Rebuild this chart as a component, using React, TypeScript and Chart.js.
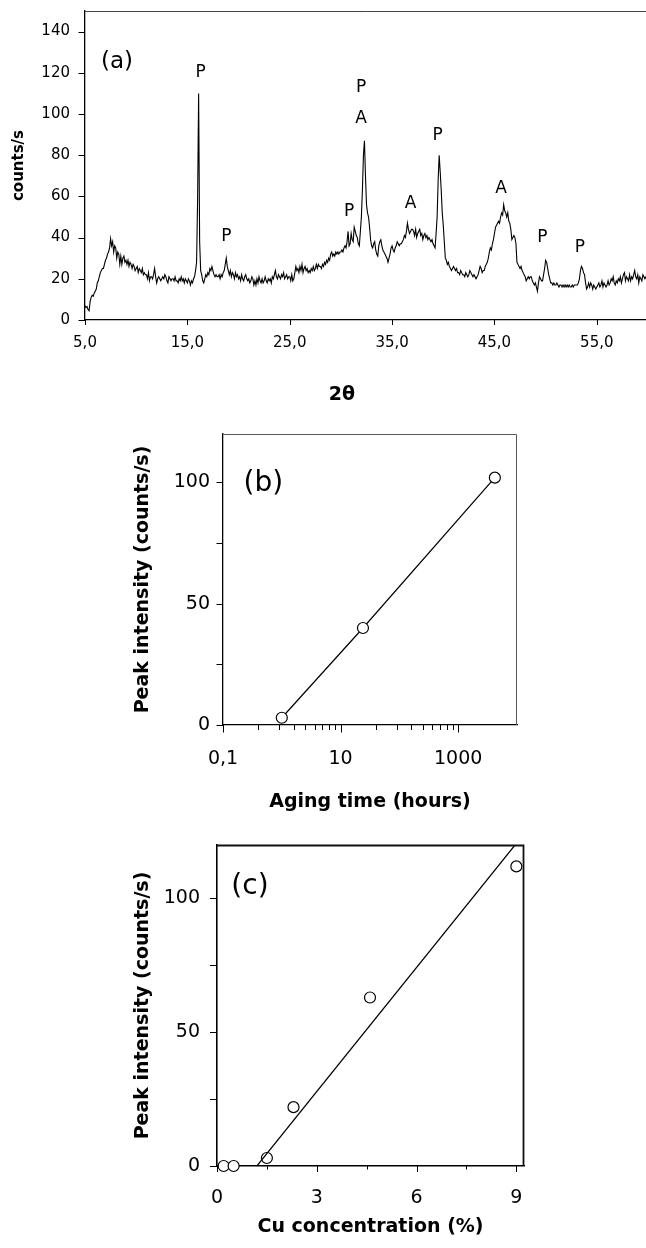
import React, { useEffect, useRef } from 'react';
import { Chart, registerables } from 'chart.js';

Chart.register(...registerables);

const FONT = "'DejaVu Sans', sans-serif";

// ---------- (a) XRD pattern ----------
const A_START = 5.0; // 2θ of first sample
const A_STEP = 0.1; // 2θ sampling step
const A_COUNTS = [
  7, 6, 6.5, 5, 4.5, 9, 11, 12, 11.5, 13,
  14, 15, 18, 19, 21, 23, 24, 25, 25, 27,
  29, 30, 32, 33, 35, 39.5, 36, 38, 33, 36,
  35, 30, 33, 32, 27, 31, 27, 30, 31, 28,
  29, 27, 29, 26, 28, 27, 25, 27, 26, 24,
  25, 26, 23, 25, 24, 23, 25, 22, 23, 22,
  22, 20, 23, 19, 21, 21, 20, 22, 25, 21,
  18, 20, 21, 20, 19, 20, 21, 20, 22, 21,
  19, 18, 21, 20, 19, 20, 20, 19, 21, 19,
  19, 18, 20, 19, 21, 19, 20, 18, 20, 19,
  18, 20, 19, 17, 19, 18, 20, 21, 24, 28,
  58, 110, 38, 24, 22, 19, 18, 20, 22, 21,
  23, 22, 25, 24, 26, 24, 22, 21, 22, 21,
  21, 22, 20, 22, 21, 23, 24, 27, 30, 26,
  24, 22, 24, 21, 23, 22, 20, 23, 21, 22,
  20, 21, 19, 22, 20, 19, 21, 22, 20, 19,
  20, 18, 19, 21, 20, 17, 19, 17, 20, 18,
  21, 19, 18, 20, 18, 19, 21, 19, 18, 20,
  19, 20, 18, 21, 20, 22, 24, 21, 20, 22,
  21, 20, 22, 21, 23, 20, 21, 22, 20, 21,
  21, 19, 22, 19, 20, 23, 26, 24, 25, 23,
  26, 24, 27, 23, 25, 26, 24, 25, 23, 24,
  23, 25, 24, 26, 24, 25, 27, 25, 27, 26,
  26, 25, 27, 26, 28, 27, 29, 28, 30, 29,
  32, 33, 31, 32, 31, 33, 32, 33, 32, 33,
  33, 34, 33, 35, 36, 35, 38, 43, 36, 37,
  42, 39, 38, 45, 43, 41, 40, 37, 36, 43,
  50, 63, 80, 87, 70, 56, 52, 50, 45, 39,
  36, 35, 37, 38, 34, 32, 31, 36, 38, 39,
  36, 34, 33, 32, 31, 30, 28, 30, 32, 35,
  36, 34, 33, 35, 36, 38, 37, 36, 37, 37,
  38, 39, 41, 40, 43, 47, 44, 42, 43, 44,
  44, 43, 41, 44, 40, 42, 43, 44, 41, 42,
  39, 41, 42, 40, 41, 39, 40, 39, 38, 39,
  37, 36, 35, 42, 50, 68, 80, 72, 63, 52,
  46, 38, 30, 29, 27, 28, 26, 25, 24, 25,
  26, 25, 24, 25, 23, 23, 22, 24, 23, 22,
  22, 21, 23, 22, 21, 22, 24, 23, 22, 21,
  22, 21, 20, 21, 22, 24, 26, 25, 23, 24,
  24, 26, 27, 28, 30, 33, 35, 34, 37, 39,
  42, 45, 46, 47, 48, 47, 50, 52, 51, 56,
  53, 52, 50, 52, 48, 47, 44, 39, 40, 41,
  40, 37, 28, 27, 26, 25, 26, 24, 23, 22,
  21, 19, 20, 21, 20, 21, 21, 19, 18, 17,
  18, 16, 14, 18, 21, 20, 19, 19, 22, 25,
  29, 28, 25, 22, 20, 18, 18, 17, 18, 17,
  17, 18, 17, 16, 17, 17, 16, 17, 16, 17,
  16, 17, 16, 17, 16, 16, 17, 16, 17, 17,
  17, 17, 18, 20, 24, 26, 25, 23, 22, 18,
  15, 16, 18, 16, 18, 17, 15, 17, 16, 15,
  16, 17, 18, 16, 17, 19, 16, 18, 17, 16,
  17, 19, 17, 18, 20, 19, 21, 18, 17, 19,
  18, 20, 19, 21, 18, 20, 22, 23, 19, 21,
  20, 19, 22, 19, 21, 20, 22, 24, 21, 20,
  22, 18, 21, 20, 19, 22, 21, 20, 21, 22,
  21,
];
const A_X_TICKS = [5, 15, 25, 35, 45, 55];
const A_X_LABELS = ['5,0', '15,0', '25,0', '35,0', '45,0', '55,0'];
const A_Y_TICKS = [0, 20, 40, 60, 80, 100, 120, 140];
const A_Y_LABELS = ['0', '20', '40', '60', '80', '100', '120', '140'];
const A_PEAK_TEXT = ['P', 'P', 'P', 'A', 'P', 'A', 'P', 'A', 'P', 'P'];
const A_PEAK_X = [16.3, 18.8, 31.97, 31.97, 30.8, 36.8, 39.45, 45.65, 49.68, 53.34];
const A_PEAK_Y = [120.2, 40.3, 112.8, 98, 52.5, 56.4, 89.5, 64, 40.2, 35.3];

// ---------- (b) peak intensity vs aging time ----------
const B_HOURS = [1, 24, 4200];
const B_PEAK = [3, 40, 102];
const B_X_MAJOR = [0.1, 10, 1000];
const B_X_LABELS = ['0,1', '10', '1000'];
const B_X_MINOR = [0.4, 0.9, 1.6, 2.5, 3.6, 4.9, 6.4, 8.1, 40, 90, 160, 250, 360, 490, 640, 810];
const B_Y_MAJOR = [0, 50, 100];
const B_Y_LABELS = ['0', '50', '100'];
const B_Y_MINOR = [25, 75];

// ---------- (c) peak intensity vs Cu concentration ----------
const C_CU = [0.2, 0.5, 1.5, 2.3, 4.6, 9.0];
const C_PEAK = [0, 0, 3, 22, 63, 112];
const C_FIT_X = [1.2, 8.96];
const C_FIT_Y = [0, 120];
const C_X_MAJOR = [0, 3, 6, 9];
const C_X_LABELS = ['0', '3', '6', '9'];
const C_X_MINOR = [1.5, 4.5, 7.5];
const C_Y_MAJOR = [0, 50, 100];
const C_Y_LABELS = ['0', '50', '100'];
const C_Y_MINOR = [25, 75];

const tickList = (major: number[], minor: number[]) =>
  [...major.map((v) => ({ value: v, major: true })), ...minor.map((v) => ({ value: v, major: false }))].sort(
    (a, b) => a.value - b.value
  );

const zeroPad = (s: any) => {
  s.paddingLeft = 0;
  s.paddingRight = 0;
  s.paddingTop = 0;
  s.paddingBottom = 0;
};

function makeAxis(cfg: {
  type: 'linear' | 'logarithmic';
  min: number;
  max: number;
  major: number[];
  minor: number[];
  labels: string[];
  size: number;
  horizontal: boolean;
  pad: number;
  fontSize: number;
  borderWidth: number;
  title?: string;
  titleSize?: number;
  titlePad?: number;
}) {
  return {
    type: cfg.type,
    min: cfg.min,
    max: cfg.max,
    afterBuildTicks: (s: any) => {
      s.ticks = tickList(cfg.major, cfg.minor);
    },
    afterFit: (s: any) => {
      if (cfg.horizontal) s.height = cfg.size;
      else s.width = cfg.size;
      zeroPad(s);
    },
    grid: { display: false, drawTicks: false },
    border: { display: true, color: '#000', width: cfg.borderWidth },
    ticks: {
      autoSkip: false,
      maxRotation: 0,
      minRotation: 0,
      padding: cfg.pad,
      color: '#000',
      font: { family: FONT, size: cfg.fontSize },
      callback: (v: any) => {
        const i = cfg.major.indexOf(Number(v));
        return i >= 0 ? cfg.labels[i] : '';
      },
    },
    title: cfg.title
      ? {
          display: true,
          text: cfg.title,
          color: '#000',
          font: { family: FONT, size: cfg.titleSize, weight: 'bold' },
          padding: cfg.horizontal ? { top: 0, bottom: cfg.titlePad } : { top: cfg.titlePad, bottom: 0 },
        }
      : { display: false },
  };
}

const frameTR = (color: string, width: number) => ({
  id: 'frameTR',
  afterDraw(chart: any) {
    const { left, top, right, bottom } = chart.chartArea;
    const ctx = chart.ctx;
    ctx.save();
    ctx.strokeStyle = color;
    ctx.lineWidth = width;
    ctx.beginPath();
    const t = Math.round(top) + 0.5;
    const r = Math.round(right) - 0.5;
    ctx.moveTo(left, t);
    ctx.lineTo(r, t);
    ctx.lineTo(r, bottom);
    ctx.stroke();
    ctx.restore();
  },
});

const tickMarks = (cfg: Record<string, { major: number; minor: number; width: number }>) => ({
  id: 'tickMarks',
  afterDraw(chart: any) {
    const ctx = chart.ctx;
    const area = chart.chartArea;
    Object.keys(cfg).forEach((id) => {
      const s = chart.scales[id];
      const c = cfg[id];
      ctx.save();
      ctx.strokeStyle = '#000';
      ctx.lineWidth = c.width;
      ctx.beginPath();
      s.ticks.forEach((t: any) => {
        const len = t.major ? c.major : c.minor;
        const p = Math.round(s.getPixelForValue(t.value)) + 0.5;
        if (s.isHorizontal()) {
          ctx.moveTo(p, area.bottom);
          ctx.lineTo(p, area.bottom + len);
        } else {
          ctx.moveTo(area.left, p);
          ctx.lineTo(area.left - len, p);
        }
      });
      ctx.stroke();
      ctx.restore();
    });
  },
});

type TextItem = { text: string; x: number; y?: number; below?: number; size: number; weight?: string };
const texts = (items: TextItem[]) => ({
  id: 'texts',
  afterDatasetsDraw(chart: any) {
    const ctx = chart.ctx;
    const xs = chart.scales.x;
    const ys = chart.scales.y;
    ctx.save();
    ctx.fillStyle = '#000';
    ctx.textAlign = 'center';
    ctx.textBaseline = 'middle';
    items.forEach((it) => {
      ctx.font = `${it.weight || 'normal'} ${it.size}px ${FONT}`;
      const px = xs.getPixelForValue(it.x);
      const py = it.below != null ? chart.chartArea.bottom + it.below : ys.getPixelForValue(it.y);
      ctx.fillText(it.text, px, py);
    });
    ctx.restore();
  },
});

function configA(): any {
  const pts = A_COUNTS.map((y, i) => ({ x: A_START + i * A_STEP, y }));
  const items: TextItem[] = A_PEAK_TEXT.map((t, i) => ({ text: t, x: A_PEAK_X[i], y: A_PEAK_Y[i], size: 17 }));
  items.push({ text: '(a)', x: 8.13, y: 125.4, size: 23 });
  items.push({ text: '2θ', x: 30.1, below: 75, size: 19, weight: 'bold' });
  return {
    type: 'line',
    data: {
      datasets: [
        { data: pts, borderColor: '#000', borderWidth: 1.1, pointRadius: 0, tension: 0, fill: false },
      ],
    },
    options: {
      responsive: false,
      animation: false,
      events: [],
      layout: { autoPadding: false, padding: { left: 0, right: 12, top: 11, bottom: 0 } },
      plugins: { legend: { display: false }, tooltip: { enabled: false } },
      scales: {
        x: makeAxis({
          type: 'linear', min: 5, max: 60, major: A_X_TICKS, minor: [], labels: A_X_LABELS,
          size: 100, horizontal: true, pad: 14.5, fontSize: 15, borderWidth: 1.3,
        }),
        y: makeAxis({
          type: 'linear', min: 0, max: 150, major: A_Y_TICKS, minor: [], labels: A_Y_LABELS,
          size: 85, horizontal: false, pad: 15, fontSize: 15, borderWidth: 1.3,
          title: 'counts/s', titleSize: 15, titlePad: 10,
        }),
      },
    },
    plugins: [
      frameTR('#444', 1),
      tickMarks({ x: { major: 5, minor: 3, width: 1 }, y: { major: 6.5, minor: 4, width: 1 } }),
      texts(items),
    ],
  };
}

function configB(): any {
  const pts = B_HOURS.map((x, i) => ({ x, y: B_PEAK[i] }));
  return {
    type: 'line',
    data: {
      datasets: [
        {
          data: pts,
          borderColor: '#000',
          borderWidth: 1.2,
          tension: 0,
          pointRadius: 5.5,
          pointBorderWidth: 1.2,
          pointBackgroundColor: '#fff',
          pointBorderColor: '#000',
          clip: false,
        },
      ],
    },
    options: {
      responsive: false,
      animation: false,
      events: [],
      layout: { autoPadding: false, padding: { left: 0, right: 129, top: 14, bottom: 0 } },
      plugins: { legend: { display: false }, tooltip: { enabled: false } },
      scales: {
        x: makeAxis({
          type: 'logarithmic', min: 0.1, max: 10000, major: B_X_MAJOR, minor: B_X_MINOR, labels: B_X_LABELS,
          size: 95, horizontal: true, pad: 23, fontSize: 19, borderWidth: 1.3,
          title: 'Aging time (hours)', titleSize: 19, titlePad: 6.6,
        }),
        y: makeAxis({
          type: 'linear', min: 0, max: 120, major: B_Y_MAJOR, minor: B_Y_MINOR, labels: B_Y_LABELS,
          size: 223, horizontal: false, pad: 13, fontSize: 19, borderWidth: 1.3,
          title: 'Peak intensity (counts/s)', titleSize: 19, titlePad: 131.6,
        }),
      },
    },
    plugins: [
      frameTR('#555', 1),
      tickMarks({ x: { major: 7.5, minor: 5, width: 1 }, y: { major: 6.5, minor: 6.5, width: 1 } }),
      texts([{ text: '(b)', x: 0.484, y: 99.7, size: 28 }]),
    ],
  };
}

function configC(): any {
  const pts = C_CU.map((x, i) => ({ x, y: C_PEAK[i] }));
  const fit = C_FIT_X.map((x, i) => ({ x, y: C_FIT_Y[i] }));
  return {
    type: 'scatter',
    data: {
      datasets: [
        {
          data: fit,
          showLine: true,
          borderColor: '#000',
          borderWidth: 1.2,
          pointRadius: 0,
          tension: 0,
        },
        {
          data: pts,
          showLine: false,
          pointRadius: 5.5,
          pointBorderWidth: 1.2,
          pointBackgroundColor: '#fff',
          pointBorderColor: '#000',
          clip: false,
        },
      ],
    },
    options: {
      responsive: false,
      animation: false,
      events: [],
      layout: { autoPadding: false, padding: { left: 0, right: 122, top: 25, bottom: 0 } },
      plugins: { legend: { display: false }, tooltip: { enabled: false } },
      scales: {
        x: makeAxis({
          type: 'linear', min: 0, max: 9.23, major: C_X_MAJOR, minor: C_X_MINOR, labels: C_X_LABELS,
          size: 82, horizontal: true, pad: 20.5, fontSize: 19, borderWidth: 1.6,
          title: 'Cu concentration (%)', titleSize: 19, titlePad: 9.6,
        }),
        y: makeAxis({
          type: 'linear', min: 0, max: 120, major: C_Y_MAJOR, minor: C_Y_MINOR, labels: C_Y_LABELS,
          size: 217, horizontal: false, pad: 17, fontSize: 19, borderWidth: 1.6,
          title: 'Peak intensity (counts/s)', titleSize: 19, titlePad: 131.6,
        }),
      },
    },
    plugins: [
      frameTR('#111', 1.8),
      tickMarks({ x: { major: 6, minor: 3.5, width: 1 }, y: { major: 7, minor: 7, width: 1 } }),
      texts([{ text: '(c)', x: 0.99, y: 104.4, size: 28 }]),
    ],
  };
}

export default function App() {
  const aRef = useRef<HTMLCanvasElement>(null);
  const bRef = useRef<HTMLCanvasElement>(null);
  const cRef = useRef<HTMLCanvasElement>(null);

  useEffect(() => {
    const charts = [
      new Chart(aRef.current as HTMLCanvasElement, configA()),
      new Chart(bRef.current as HTMLCanvasElement, configB()),
      new Chart(cRef.current as HTMLCanvasElement, configC()),
    ];
    return () => charts.forEach((c) => c.destroy());
  }, []);

  return (
    <div
      style={{
        position: 'fixed',
        left: 0,
        top: 0,
        width: 646,
        height: 1248,
        overflow: 'hidden',
        background: '#fff',
      }}
    >
      <canvas ref={aRef} width={660} height={420} style={{ position: 'absolute', left: 0, top: 0 }} />
      <canvas ref={bRef} width={646} height={400} style={{ position: 'absolute', left: 0, top: 420 }} />
      <canvas ref={cRef} width={646} height={428} style={{ position: 'absolute', left: 0, top: 820 }} />
    </div>
  );
}
